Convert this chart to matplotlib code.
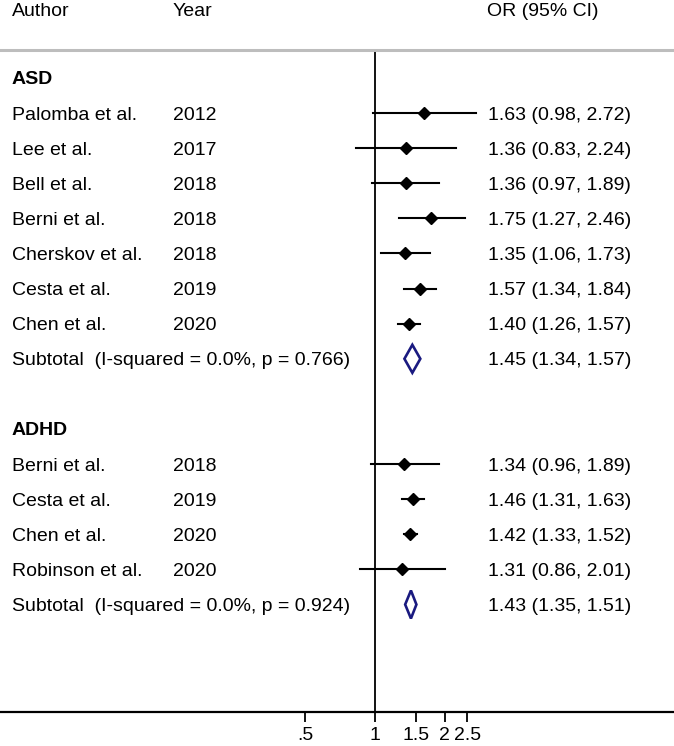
import numpy as np
import matplotlib
matplotlib.use("Agg")
import matplotlib.pyplot as plt
import matplotlib.transforms as mtransforms

plt.rcParams['font.family'] = ['Liberation Sans', 'DejaVu Sans']

# ---- data ----
asd_authors = ["Palomba et al.", "Lee et al.", "Bell et al.", "Berni et al.",
               "Cherskov et al.", "Cesta et al.", "Chen et al."]
asd_years = ["2012", "2017", "2018", "2018", "2018", "2019", "2020"]
asd_or = [1.63, 1.36, 1.36, 1.75, 1.35, 1.57, 1.40]
asd_lo = [0.98, 0.83, 0.97, 1.27, 1.06, 1.34, 1.26]
asd_hi = [2.72, 2.24, 1.89, 2.46, 1.73, 1.84, 1.57]
asd_sub = [1.45, 1.34, 1.57]
asd_sub_label = "Subtotal  (I-squared = 0.0%, p = 0.766)"

adhd_authors = ["Berni et al.", "Cesta et al.", "Chen et al.", "Robinson et al."]
adhd_years = ["2018", "2019", "2020", "2020"]
adhd_or = [1.34, 1.46, 1.42, 1.31]
adhd_lo = [0.96, 1.31, 1.33, 0.86]
adhd_hi = [1.89, 1.63, 1.52, 2.01]
adhd_sub = [1.43, 1.35, 1.51]
adhd_sub_label = "Subtotal  (I-squared = 0.0%, p = 0.924)"

tick_vals = [0.5, 1, 1.5, 2, 2.5]
tick_labels = [".5", "1", "1.5", "2", "2.5"]

# ---- layout ----
W, H = 674, 746
fig = plt.figure(figsize=(W / 100, H / 100), dpi=100)
ax_top_px, ax_bot_px = 50, 712
ax = fig.add_axes([0, (H - ax_bot_px) / H, 1, (ax_bot_px - ax_top_px) / H])

row0_px, row_step = 78, 35.1
def px_to_row(p):
    return (p - row0_px) / row_step

ax.set_ylim(px_to_row(ax_bot_px), px_to_row(ax_top_px))
x1_px, scale = 375, 100.5
ax.set_xscale('log')
ax.set_xlim(np.exp((0 - x1_px) / scale), np.exp((W - x1_px) / scale))

for s in ['left', 'right', 'top']:
    ax.spines[s].set_visible(False)
ax.spines['bottom'].set_linewidth(1.6)
ax.set_yticks([])
ax.xaxis.set_major_locator(matplotlib.ticker.FixedLocator(tick_vals))
ax.xaxis.set_minor_locator(matplotlib.ticker.NullLocator())
ax.set_xticklabels(tick_labels)
ax.tick_params(axis='x', length=7, width=1.3, labelsize=14, pad=4, colors='black')

fs = 14
trans = mtransforms.blended_transform_factory(fig.transFigure, ax.transData)
def xf(p):
    return p / W

col_author, col_year, col_or = 12, 173, 488
txt_dy = 2.0 / row_step  # small downward nudge so caps sit centred on the row

# vertical line at 1
ax.axvline(1, color='black', lw=1.3, zorder=1)
# gray separator line
ax.axhline(px_to_row(ax_top_px), color='#bdbdbd', lw=2.2, clip_on=False)

# header
hy = 1 - 12 / H
fig.text(xf(col_author), hy, "Author", fontsize=fs, va='center')
fig.text(xf(col_year), hy, "Year", fontsize=fs, va='center')
fig.text(xf(487), hy, "OR (95% CI)", fontsize=fs, va='center')

def draw_group(start_row, title, authors, years, ors, los, his, sub, sub_label):
    ax.text(xf(col_author), start_row + txt_dy, title, transform=trans, fontsize=fs,
            fontweight='bold', va='center')
    for k, (a, y, o, l, h) in enumerate(zip(authors, years, ors, los, his)):
        r = start_row + 1 + k
        ax.text(xf(col_author), r + txt_dy, a, transform=trans, fontsize=fs, va='center')
        ax.text(xf(col_year), r + txt_dy, y, transform=trans, fontsize=fs, va='center')
        ax.text(xf(col_or), r + txt_dy, f"{o:.2f} ({l:.2f}, {h:.2f})", transform=trans,
                fontsize=fs, va='center')
        ax.plot([l, h], [r, r], color='black', lw=1.5, zorder=3)
        ax.plot([o], [r], marker='D', color='black', markersize=6, zorder=4)
    r = start_row + 1 + len(authors)
    ax.text(xf(col_author), r + txt_dy, sub_label, transform=trans, fontsize=fs, va='center')
    ax.text(xf(col_or), r + txt_dy, f"{sub[0]:.2f} ({sub[1]:.2f}, {sub[2]:.2f})",
            transform=trans, fontsize=fs, va='center')
    dh = 14 / row_step
    ax.fill([sub[1], sub[0], sub[2], sub[0], sub[1]],
            [r, r - dh, r, r + dh, r], facecolor='none', edgecolor='#1a1a80',
            lw=1.9, zorder=4)

draw_group(0, "ASD", asd_authors, asd_years, asd_or, asd_lo, asd_hi, asd_sub, asd_sub_label)
draw_group(10, "ADHD", adhd_authors, adhd_years, adhd_or, adhd_lo, adhd_hi, adhd_sub, adhd_sub_label)

fig.savefig("out.png", dpi=100)
